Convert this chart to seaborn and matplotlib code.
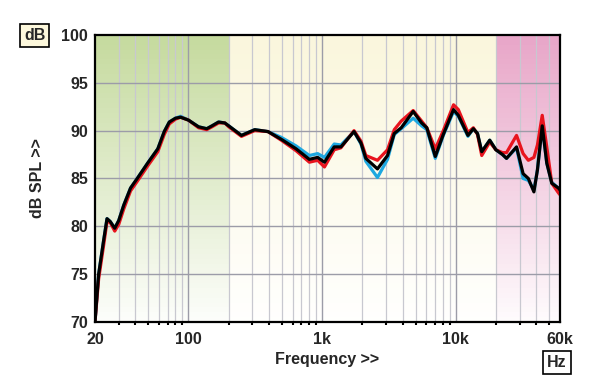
'''plot.py
Loudspeaker frequency response (dB SPL vs frequency) recreated with seaborn.
'''

# Import modules
import numpy as np
import pandas as pd
import matplotlib
matplotlib.use("Agg")
import matplotlib.pyplot as plt
import seaborn as sns
from matplotlib.colors import LinearSegmentedColormap

# Data
freq = [20, 21.3, 23.2, 24.6, 26, 28.1, 30.1, 32.8, 36.9, 41.4, 49.5, 59, 65.9, 71.9,
        80, 87.3, 100, 119, 137, 150, 168, 187, 200, 249, 313, 393, 494, 638, 802, 925,
        1040, 1230, 1380, 1730, 1950, 2120, 2590, 3080, 3460, 3900, 4790, 5540, 6060,
        7010, 8050, 9600, 10420, 12300, 13500, 14500, 15600, 17900, 19900, 22300, 23900,
        28400, 31800, 34800, 38300, 40700, 44200, 47800, 52100, 58400, 60000]

black = [70.0, 75.0, 78.5, 80.8, 80.5, 79.8, 80.6, 82.2, 84.0, 85.0, 86.6, 88.1, 89.9, 90.9,
         91.3, 91.4, 91.1, 90.4, 90.2, 90.5, 90.9, 90.8, 90.5, 89.5, 90.1, 89.9, 89.1, 88.1, 87.0, 87.2,
         86.7, 88.3, 88.3, 89.9, 88.7, 87.1, 86.0, 87.4, 89.7, 90.3, 92.0, 90.8, 90.3,
         87.3, 89.6, 92.2, 91.6, 89.5, 90.2, 89.7, 87.8, 89.0, 88.0, 87.5, 87.1,
         88.3, 85.5, 85.0, 83.6, 85.9, 90.5, 86.6, 84.5, 84.0, 83.8]

red = [70.0, 74.5, 78.0, 80.5, 80.4, 79.5, 80.2, 81.8, 83.7, 84.7, 86.3, 87.8, 89.6, 90.7,
       91.2, 91.4, 91.1, 90.3, 90.1, 90.4, 90.8, 90.8, 90.4, 89.4, 90.0, 89.9, 89.0, 87.9, 86.7, 86.9,
       86.2, 88.0, 88.2, 90.0, 88.9, 87.4, 86.9, 88.0, 90.1, 91.0, 92.1, 91.0, 90.3,
       88.1, 90.0, 92.7, 92.2, 89.8, 90.3, 89.6, 87.4, 88.8, 88.0, 87.7, 87.7,
       89.5, 87.6, 86.9, 87.2, 88.5, 91.6, 88.3, 84.5, 83.5, 83.3]

blue = [70.0, 75.0, 78.5, 80.8, 80.5, 79.8, 80.6, 82.2, 84.0, 85.0, 86.6, 88.1, 89.9, 90.9,
        91.3, 91.5, 91.1, 90.4, 90.2, 90.5, 90.9, 90.8, 90.5, 89.5, 90.1, 89.9, 89.3, 88.4, 87.4, 87.6,
        87.2, 88.6, 88.5, 89.9, 88.6, 86.8, 85.1, 87.0, 89.6, 90.2, 91.3, 90.5, 90.1,
        87.1, 89.5, 92.0, 91.5, 89.4, 90.2, 89.7, 87.8, 89.0, 88.0, 87.5, 87.1,
        88.2, 85.0, 84.8, 83.8, 85.9, 90.5, 86.6, 84.6, 84.0, 83.8]

x_major = [20, 100, 1000, 10000, 60000]
x_major_labels = ["20", "100", "1k", "10k", "60k"]
y_ticks = [70, 75, 80, 85, 90, 95, 100]
zones = [(20, 200, "#c5da9e"), (200, 20000, "#faf6dc"), (20000, 60000, "#e8a6c8")]

# Build long-format frame
dat = pd.DataFrame({
    "Frequency": freq * 3,
    "SPL": blue + red + black,
    "Curve": ["blue"] * len(freq) + ["red"] * len(freq) + ["black"] * len(freq),
})

# Style
sns.set_style("white")
plt.rcParams["font.family"] = ["Liberation Sans", "DejaVu Sans"]

fig = plt.figure(figsize=(6, 3.89), dpi=100)
ax = fig.add_axes([0.1583, 0.1722, 0.775, 0.738])
ax.set_xscale("log")

# Shaded frequency zones with vertical fade to white
yy = np.linspace(70, 100, 60)
for x0, x1, col in zones:
    cmap = LinearSegmentedColormap.from_list("z", ["#ffffff", col])
    vals = np.linspace(0.05, 1, len(yy) - 1).reshape(-1, 1)
    ax.pcolormesh([x0, x1], yy, vals, cmap=cmap, vmin=0, vmax=1, shading="flat",
                  zorder=0, rasterized=True)

# Grid
minor = [m * d for d in (10, 100, 1000, 10000) for m in range(2, 10)
         if 20 < m * d < 60000 and m * d not in (100, 1000, 10000)]
for f in minor:
    ax.axvline(f, color="#c8c8d0", lw=0.9, zorder=1)
for f in (100, 1000, 10000):
    ax.axvline(f, color="#9c9ca8", lw=1.0, zorder=1)
for y in y_ticks[1:-1]:
    ax.axhline(y, color="#9c9ca8", lw=1.0, zorder=1)

# Curves
sns.lineplot(data=dat, x="Frequency", y="SPL", hue="Curve",
             hue_order=["blue", "red", "black"],
             palette={"blue": "#1ea8e0", "red": "#e8141e", "black": "#000000"},
             lw=2.3, legend=False, ax=ax, zorder=3)

# Axes limits and ticks
ax.set_xlim(20, 60000)
ax.set_ylim(70, 100)
ax.set_xticks(x_major)
ax.set_xticklabels(x_major_labels)
ax.set_xticks(minor, minor=True)
ax.set_xticklabels([], minor=True)
ax.set_yticks(y_ticks)
ax.tick_params(axis="both", which="major", direction="out", length=4, width=1,
               labelsize=11.5, pad=1, color="black")
ax.tick_params(axis="x", which="major", pad=3)
ax.tick_params(axis="x", which="minor", direction="out", length=2, width=1.5,
               color="black", bottom=True)
for lab in ax.get_xticklabels() + ax.get_yticklabels():
    lab.set_fontweight("bold")

for s in ax.spines.values():
    s.set_color("black")
    s.set_linewidth(1.6)
    s.set_zorder(4)

# Labels
ax.set_xlabel("Frequency >>", fontsize=11.5, fontweight="bold", labelpad=4)
ax.set_ylabel("dB SPL >>", fontsize=11.5, fontweight="bold", labelpad=12)

fig.text(0.058, 0.91, "dB", fontsize=11.5, fontweight="bold", ha="center", va="center",
         bbox=dict(boxstyle="square,pad=0.25", fc="#fdf8dc", ec="black", lw=1.2))
fig.text(0.928, 0.067, "Hz", fontsize=11.5, fontweight="bold", ha="center", va="center",
         bbox=dict(boxstyle="square,pad=0.25", fc="white", ec="black", lw=1.2))

plt.savefig("out.png", dpi=100)
